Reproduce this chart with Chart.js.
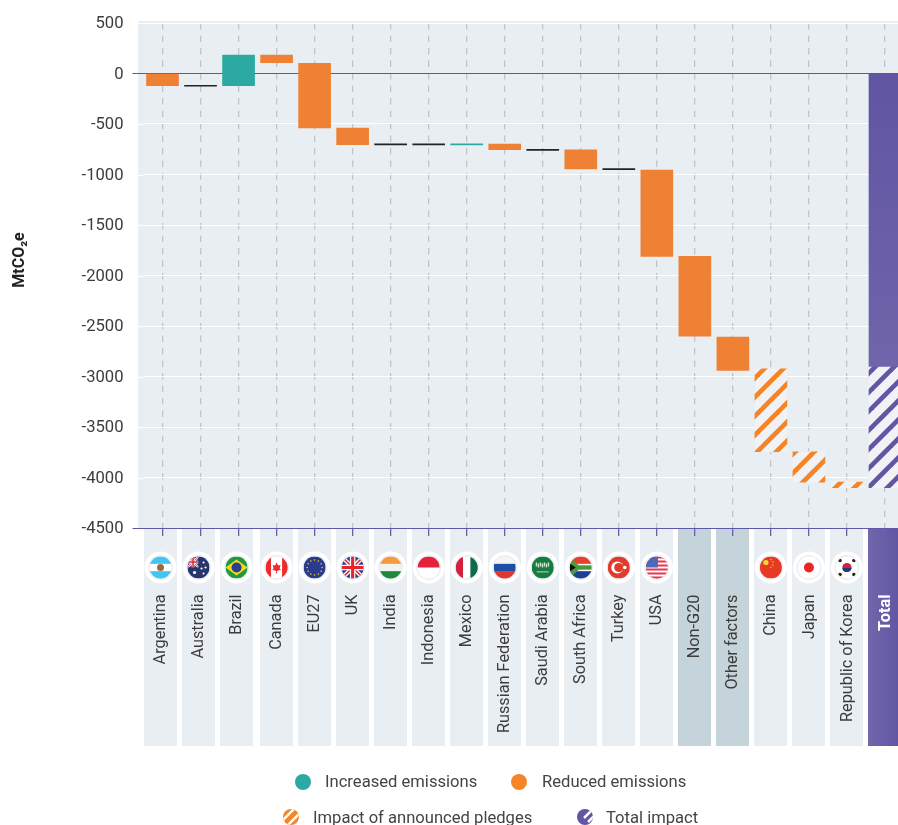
<!DOCTYPE html>
<html>
<head>
<meta charset="utf-8">
<title>Emissions impact by country</title>
<script src="https://cdn.jsdelivr.net/npm/chart.js@4"></script>
<style>
  html, body { margin: 0; padding: 0; background: #fff; overflow: hidden; }
  canvas { display: block; }
</style>
</head>
<body>
<canvas id="impactChart" width="904" height="825"></canvas>
<script>
const categories = ['Argentina', 'Australia', 'Brazil', 'Canada', 'EU27', 'UK', 'India', 'Indonesia', 'Mexico',
  'Russian Federation', 'Saudi Arabia', 'South Africa', 'Turkey', 'USA', 'Non-G20', 'Other factors',
  'China', 'Japan', 'Republic of Korea', 'Total'];
const increased = [null, null, [183, -120], null, null, null, null, null, [-696, -706], null, null, null, null, null, null, null, null, null, null, null];
const reduced = [[0, -120], null, null, [183, 107], [100, -540], [-540, -705], null, null, null, [-700, -755], null, [-755, -945], null, [-955, -1810], [-1810, -2600], [-2610, -2940], null, null, null, null];
const noChange = [null, [-116, -126], null, null, null, null, [-696, -706], [-696, -706], null, null, [-751, -761], null, [-941, -951], null, null, null, null, null, null, null];
const pledges = [null, null, null, null, null, null, null, null, null, null, null, null, null, null, null, null, [-2925, -3745], [-3745, -4045], [-4045, -4100], null];
const totalImpact = [null, null, null, null, null, null, null, null, null, null, null, null, null, null, null, null, null, null, null, [0, -2900]];
const totalPledges = [null, null, null, null, null, null, null, null, null, null, null, null, null, null, null, null, null, null, null, [-2900, -4100]];
const yMin = -4500;
const yMax = 500;
const yStep = 500;

const TEAL = '#2ba9a2';
const ORANGE = '#ef8135';
const PURPLE = '#6358a5';

// hatch tile, phase moves the stripes so they land where the reference has them
function stripes(color, phase) {
  const period = 19;
  const tile = document.createElement('canvas');
  tile.width = period;
  tile.height = period;
  const g = tile.getContext('2d');
  g.fillStyle = '#f0f2f5';
  g.fillRect(0, 0, period, period);
  g.strokeStyle = color;
  g.lineWidth = 4.7;
  for (let k = -1; k < 4; k++) {
    const c = phase + k * period;
    g.beginPath();
    g.moveTo(c + 5, -5);
    g.lineTo(-5, c + 5);
    g.stroke();
  }
  return tile;
}

const ctx = document.getElementById('impactChart').getContext('2d');
const orangeStripes = ctx.createPattern(stripes('#f58426', 12), 'repeat');
const purpleStripes = ctx.createPattern(stripes('#6156a5', 7), 'repeat');

// simple flag drawings, origin is the centre of the circle
function hBands(g, r, colors) {
  const h = 2 * r / colors.length;
  colors.forEach((c, i) => { g.fillStyle = c; g.fillRect(-r, -r + i * h, 2 * r, h + 0.5); });
}
function vBands(g, r, colors) {
  const w = 2 * r / colors.length;
  colors.forEach((c, i) => { g.fillStyle = c; g.fillRect(-r + i * w, -r, w + 0.5, 2 * r); });
}
function disc(g, x, y, r, c) {
  g.fillStyle = c;
  g.beginPath();
  g.arc(x, y, r, 0, Math.PI * 2);
  g.fill();
}
function line(g, x1, y1, x2, y2, w, c) {
  g.strokeStyle = c;
  g.lineWidth = w;
  g.beginPath();
  g.moveTo(x1, y1);
  g.lineTo(x2, y2);
  g.stroke();
}
function unionJack(g, x, y, r) {
  g.fillStyle = '#2b3f8f';
  g.fillRect(x - r, y - r, 2 * r, 2 * r);
  line(g, x - r, y - r, x + r, y + r, r * 0.38, '#fff');
  line(g, x - r, y + r, x + r, y - r, r * 0.38, '#fff');
  line(g, x - r, y - r, x + r, y + r, r * 0.14, '#e4252c');
  line(g, x - r, y + r, x + r, y - r, r * 0.14, '#e4252c');
  line(g, x - r, y, x + r, y, r * 0.5, '#fff');
  line(g, x, y - r, x, y + r, r * 0.5, '#fff');
  line(g, x - r, y, x + r, y, r * 0.28, '#e4252c');
  line(g, x, y - r, x, y + r, r * 0.28, '#e4252c');
}
const flags = {
  'Argentina': (g, r) => { hBands(g, r, ['#43c5f2', '#fff', '#43c5f2']); disc(g, 0, 0, 3.5, '#9a6a3c'); },
  'Australia': (g, r) => {
    g.fillStyle = '#27356f'; g.fillRect(-r, -r, 2 * r, 2 * r);
    g.save(); g.beginPath(); g.rect(-r, -r, r, r); g.clip(); unionJack(g, -r / 2, -r / 2, r / 2); g.restore();
    [[-4, 5, 1.6], [5, -5, 1.1], [7, 0, 1.1], [3, 1, 1.1], [5, 6, 1.1]].forEach(s => disc(g, s[0], s[1], s[2], '#fff'));
  },
  'Brazil': (g, r) => {
    g.fillStyle = '#1f9a3e'; g.fillRect(-r, -r, 2 * r, 2 * r);
    g.fillStyle = '#f5d81e'; g.beginPath(); g.moveTo(-r, 0); g.lineTo(0, -8); g.lineTo(r, 0); g.lineTo(0, 8); g.fill();
    disc(g, 0, 0, 5, '#2a3f8e');
  },
  'Canada': (g, r) => {
    vBands(g, r, ['#ee2b2b', '#fff', '#fff', '#ee2b2b']);
    g.fillStyle = '#ee2b2b';
    g.beginPath(); g.moveTo(0, -5); g.lineTo(1.5, -2); g.lineTo(4, -2.5); g.lineTo(3, 1); g.lineTo(4.5, 2); g.lineTo(0.5, 3.5);
    g.lineTo(0.5, 6); g.lineTo(-0.5, 6); g.lineTo(-0.5, 3.5); g.lineTo(-4.5, 2); g.lineTo(-3, 1); g.lineTo(-4, -2.5); g.lineTo(-1.5, -2); g.fill();
  },
  'EU27': (g, r) => {
    g.fillStyle = '#2a3a8c'; g.fillRect(-r, -r, 2 * r, 2 * r);
    for (let i = 0; i < 12; i++) {
      const a = i * Math.PI / 6;
      disc(g, 7.5 * Math.cos(a), 7.5 * Math.sin(a), 0.8, '#f2d12c');
    }
  },
  'UK': (g, r) => unionJack(g, 0, 0, r),
  'India': (g, r) => { hBands(g, r, ['#f79a3e', '#f2f2f2', '#1f8a3d']); },
  'Indonesia': (g, r) => { hBands(g, r, ['#e5223a', '#fff']); },
  'Mexico': (g, r) => { vBands(g, r, ['#d2213a', '#fff', '#0c6b4a']); },
  'Russian Federation': (g, r) => { hBands(g, r, ['#f4f4f4', '#1b4fa8', '#e0392c']); },
  'Saudi Arabia': (g, r) => {
    g.fillStyle = '#167c3f'; g.fillRect(-r, -r, 2 * r, 2 * r);
    g.fillStyle = '#cfe3d5';
    for (let i = 0; i < 7; i++) g.fillRect(-7 + i * 2, -5 + (i % 2), 1.4, 4);
    g.fillStyle = '#e3efe6'; g.fillRect(-6, 4, 12, 0.8);
  },
  'South Africa': (g, r) => {
    hBands(g, r, ['#e8402c', '#fff', '#1e3f94']);
    g.fillStyle = '#4a9a3c'; g.fillRect(-r, -2.2, 2 * r, 4.4);
    g.fillStyle = '#4a9a3c'; g.beginPath(); g.moveTo(-r, -11); g.lineTo(0, 0); g.lineTo(-r, 11); g.fill();
    g.fillStyle = '#111'; g.beginPath(); g.moveTo(-r, -4); g.lineTo(-5, 0); g.lineTo(-r, 4); g.fill();
  },
  'Turkey': (g, r) => {
    g.fillStyle = '#e23a2c'; g.fillRect(-r, -r, 2 * r, 2 * r);
    disc(g, -1.5, 0, 6, '#fff');
    disc(g, 0, 0, 4.6, '#e23a2c');
    disc(g, 6, 0, 1.8, '#fff');
  },
  'USA': (g, r) => {
    hBands(g, r, ['#e8344a', '#fff', '#e8344a', '#fff', '#e8344a', '#fff', '#e8344a', '#fff', '#e8344a', '#fff', '#e8344a']);
    g.fillStyle = '#4a69b8'; g.fillRect(-r, -r, r * 1.1, r);
  },
  'China': (g, r) => {
    g.fillStyle = '#e73a24'; g.fillRect(-r, -r, 2 * r, 2 * r);
    disc(g, -5, -5, 2.6, '#f8d92e');
    [[0, -8], [2, -5.5], [2, -2.5], [0, 0]].forEach(s => disc(g, s[0], s[1], 0.7, '#f8d92e'));
  },
  'Japan': (g, r) => { g.fillStyle = '#fff'; g.fillRect(-r, -r, 2 * r, 2 * r); disc(g, 0, 0, 5, '#ee2424'); },
  'Republic of Korea': (g, r) => {
    g.fillStyle = '#fff'; g.fillRect(-r, -r, 2 * r, 2 * r);
    disc(g, 0, 0, 4.6, '#cf2140');
    g.fillStyle = '#1d3a83';
    g.beginPath(); g.arc(0, 0, 4.6, 0.1, Math.PI - 0.1); g.fill();
    [[-7, -7], [7, -7], [-7, 7], [7, 7]].forEach(s => disc(g, s[0], s[1], 1.8, '#222'));
  }
};

// legend marker, a filled circle with white slashes across it
function legendDot(g, x, y, fill, slashes) {
  g.save();
  g.beginPath();
  g.arc(x, y, 8, 0, Math.PI * 2);
  g.clip();
  g.fillStyle = fill;
  g.fillRect(x - 9, y - 9, 18, 18);
  slashes.forEach(s => line(g, x + s[0], y + s[1], x + s[2], y + s[3], 2.5, '#fff'));
  g.restore();
}

// the strips under the axis are not evenly spaced, the first three sit 2px to the left
function stripCentre(xs, i) {
  return xs.getPixelForTick(i) + (i < 3 ? -2 : 0);
}

const backdrop = {
  id: 'backdrop',
  beforeDraw(chart) {
    const g = chart.ctx;
    const xs = chart.scales.x;
    const ys = chart.scales.y;
    g.save();
    g.fillStyle = '#e9eef3';
    g.fillRect(138, 21, 760, ys.bottom - 21);
    // grid lines start a little left of the first category
    ys.ticks.forEach(t => {
      if (t.value === 0 || t.value === yMin) return;
      const y = Math.round(ys.getPixelForValue(t.value)) + 0.5;
      line(g, 138, y, xs.left, y, 1, '#fff');
    });
    // label strips under the axis
    categories.forEach((name, i) => {
      const cx = stripCentre(xs, i);
      if (name === 'Total') {
        const grad = g.createLinearGradient(cx - 16, 0, cx + 16, 0);
        grad.addColorStop(0, '#7166ab');
        grad.addColorStop(1, '#5f55a2');
        g.fillStyle = grad;
      } else if (name === 'Non-G20' || name === 'Other factors') {
        g.fillStyle = '#c5d3da';
      } else {
        g.fillStyle = '#e9eef3';
      }
      g.fillRect(Math.round(cx - 16.5), ys.bottom + 1, 33, 217);
    });
    g.restore();
  },
  afterDraw(chart) {
    const g = chart.ctx;
    const xs = chart.scales.x;
    g.save();
    categories.forEach((name, i) => {
      const cx = stripCentre(xs, i);
      if (flags[name]) {
        disc(g, cx, 567.5, 16, '#fff');
        disc(g, cx, 567.5, 12.5, '#eceff3');
        g.save();
        g.translate(cx, 567.5);
        g.beginPath();
        g.arc(0, 0, 11, 0, Math.PI * 2);
        g.clip();
        flags[name](g, 11);
        g.restore();
      }
      // category label, reads bottom to top
      g.save();
      g.translate(cx + 0.5, 594.5);
      g.rotate(-Math.PI / 2);
      g.textAlign = 'right';
      g.textBaseline = 'middle';
      g.fillStyle = name === 'Total' ? '#fff' : '#3c3c3c';
      g.font = (name === 'Total' ? 'bold ' : '') + '16.3px Roboto';
      g.fillText(name, 0, 0);
      g.restore();
    });

    // axis title
    g.save();
    g.translate(20, 260);
    g.rotate(-Math.PI / 2);
    g.textAlign = 'center';
    g.textBaseline = 'middle';
    g.fillStyle = '#222';
    g.font = 'bold 16px Roboto';
    g.fillText('MtCO₂e', 0, 0);
    g.restore();

    // legend
    g.textAlign = 'left';
    g.textBaseline = 'middle';
    g.font = '16.6px Roboto';
    legendDot(g, 303, 782, TEAL, []);
    legendDot(g, 519, 782, '#f58529', []);
    legendDot(g, 291, 817, '#f58529', [[-13, 8, 8, -13], [-8, 13, 13, -8]]);
    legendDot(g, 585, 817, '#6156a5', [[9, -9, -1, 1], [9, -1, 3, 5]]);
    g.fillStyle = '#444';
    g.fillText('Increased emissions', 325, 783);
    g.fillText('Reduced emissions', 542, 783);
    g.fillText('Impact of announced pledges', 313, 819);
    g.fillText('Total impact', 606, 819);
    g.restore();
  }
};

function totalGradient(context) {
  const area = context.chart.chartArea;
  if (!area) return PURPLE;
  const grad = context.chart.ctx.createLinearGradient(0, area.top + 50, 0, 367);
  grad.addColorStop(0, '#5f55a2');
  grad.addColorStop(1, '#7064aa');
  return grad;
}

function barSet(label, data, color) {
  return { label, data, backgroundColor: color, barThickness: 32, grouped: false, borderWidth: 0 };
}

new Chart(ctx, {
  type: 'bar',
  data: {
    labels: categories,
    datasets: [
      barSet('Increased emissions', increased, TEAL),
      barSet('Reduced emissions', reduced, ORANGE),
      barSet('No change', noChange, '#222222'),
      barSet('Impact of announced pledges', pledges, orangeStripes),
      barSet('Total impact', totalImpact, totalGradient),
      barSet('Total impact of pledges', totalPledges, purpleStripes)
    ]
  },
  plugins: [backdrop],
  options: {
    responsive: false,
    animation: false,
    layout: { padding: { top: 23, bottom: 289, left: 0, right: 0 } },
    plugins: { legend: { display: false }, tooltip: { enabled: false } },
    scales: {
      x: {
        offset: true,
        ticks: { display: false },
        grid: {
          offset: false,
          color: '#c1c5cb',
          lineWidth: 1.3,
          tickColor: '#6a60ae',
          tickLength: 8,
          tickBorderDash: []
        },
        border: { display: false, dash: [6.5, 6] }
      },
      y: {
        min: yMin,
        max: yMax,
        border: { display: false },
        afterFit: scale => { scale.width = 143.5; },
        ticks: {
          stepSize: yStep,
          padding: 9,
          labelOffset: 1,
          color: '#3c3c3c',
          font: { family: 'Roboto', size: 16.6 },
          callback: v => String(v)
        },
        grid: {
          lineWidth: 1,
          tickLength: 11,
          color: c => (c.tick.value === 0 || c.tick.value === yMin) ? '#5c57a8' : '#ffffff',
          tickColor: c => (c.tick.value === 0 || c.tick.value === yMin) ? '#5c57a8' : 'rgba(0,0,0,0)'
        }
      }
    }
  }
});
</script>
</body>
</html>
